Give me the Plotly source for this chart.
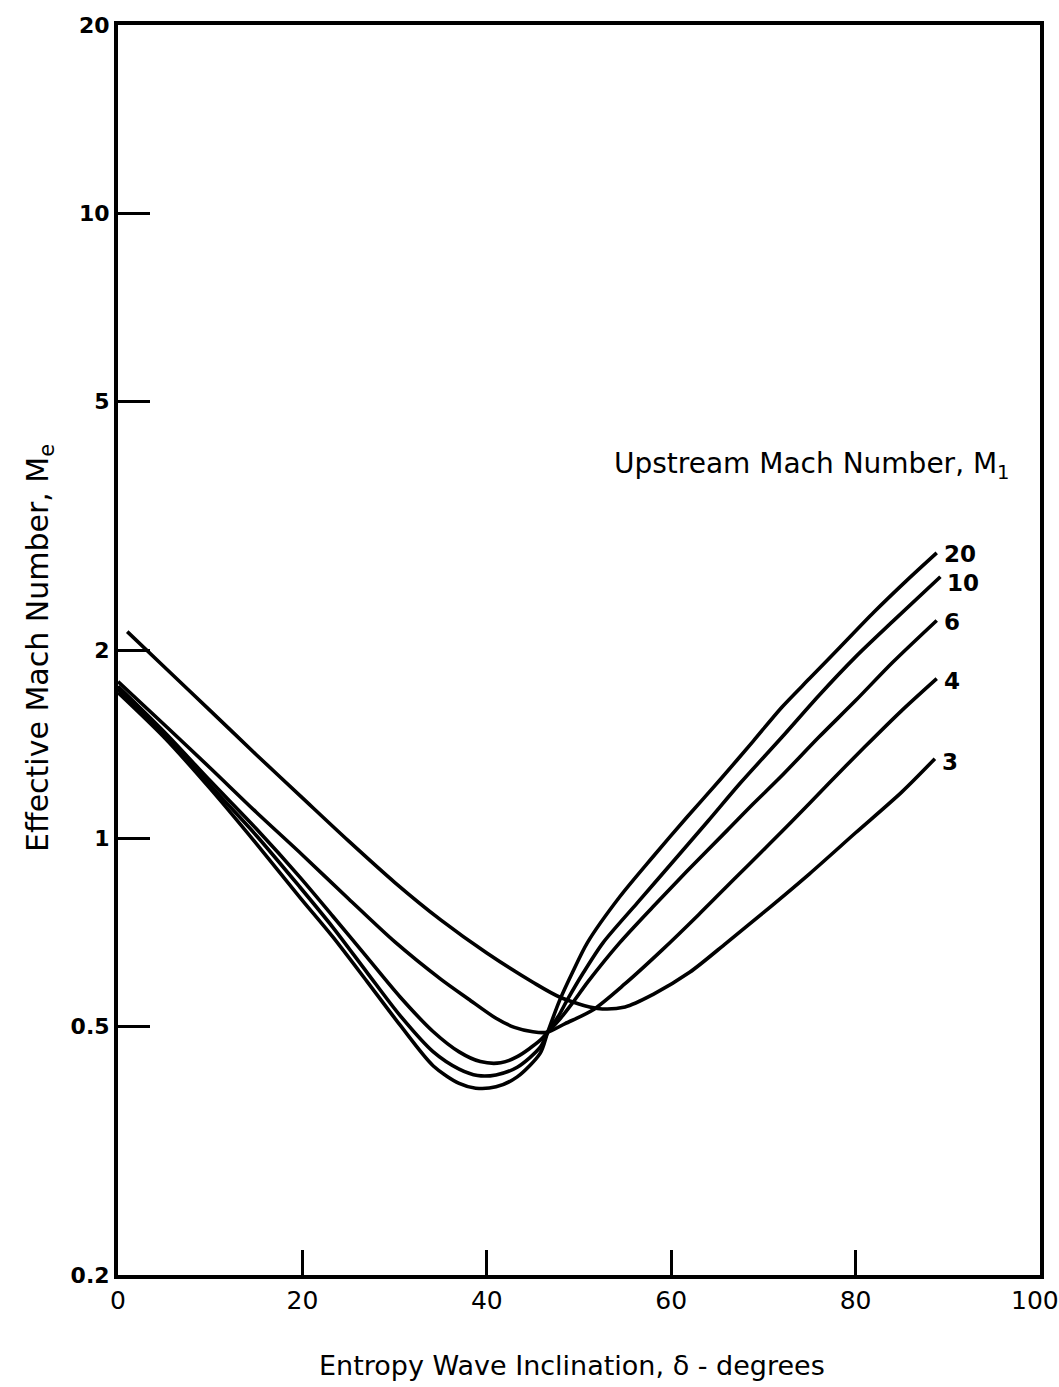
import math
import plotly.graph_objects as go

# ---- data ----
x_m3 = [1, 5, 10, 15, 20, 25, 30, 35, 40, 45, 48, 52, 55, 58, 62, 66, 70, 75, 80, 85, 88.6]
y_m3 = [2.14, 1.88, 1.60, 1.36, 1.16, 0.99, 0.85, 0.74, 0.655, 0.588, 0.556, 0.534, 0.537, 0.562, 0.61, 0.68, 0.76, 0.877, 1.02, 1.185, 1.34]

x_m4 = [0, 5, 10, 15, 20, 25, 30, 35, 38, 41, 43, 45, 46.5, 48.5, 51.5, 55, 59, 63, 67, 70, 73, 77, 81, 85, 88.8]
y_m4 = [1.78, 1.52, 1.295, 1.10, 0.94, 0.80, 0.683, 0.595, 0.553, 0.515, 0.498, 0.490, 0.489, 0.505, 0.531, 0.585, 0.662, 0.755, 0.865, 0.957, 1.06, 1.22, 1.40, 1.60, 1.80]

x_m6 = [0, 5, 10, 15, 19.7, 23.3, 27, 30.6, 34.2, 37, 39.3, 41.5, 43.3, 45.8, 46.6, 48, 49.3, 51, 54.4, 58, 61.7, 66.1, 68.9, 71.8, 76, 80, 84, 88.8]
y_m6 = [1.75, 1.48, 1.235, 1.035, 0.867, 0.75, 0.645, 0.557, 0.49, 0.455, 0.439, 0.437, 0.447, 0.475, 0.489, 0.515, 0.545, 0.59, 0.68, 0.776, 0.885, 1.03, 1.135, 1.25, 1.45, 1.66, 1.91, 2.23]

x_m10 = [0, 5, 10, 15, 19.7, 23.3, 27, 30.6, 34.2, 37, 39, 41, 43.3, 45.8, 46.6, 47.8, 48.7, 50.5, 52.6, 56.3, 60, 64, 67.5, 72, 76, 80, 84, 89.2]
y_m10 = [1.73, 1.47, 1.215, 1.01, 0.836, 0.72, 0.61, 0.52, 0.455, 0.427, 0.417, 0.418, 0.430, 0.463, 0.489, 0.52, 0.55, 0.61, 0.68, 0.787, 0.91, 1.065, 1.225, 1.45, 1.69, 1.95, 2.22, 2.62]

x_m20 = [0, 5, 10, 15, 19.7, 23.3, 27, 30.6, 34.2, 37, 38.8, 41, 43.3, 45.8, 46.6, 47.9, 49.3, 50.9, 54.4, 58, 61.7, 65.3, 68.9, 72, 75, 78.3, 82, 85.5, 88.8]
y_m20 = [1.71, 1.45, 1.20, 0.98, 0.805, 0.695, 0.59, 0.502, 0.432, 0.405, 0.398, 0.400, 0.415, 0.453, 0.489, 0.55, 0.61, 0.68, 0.805, 0.933, 1.08, 1.24, 1.43, 1.62, 1.80, 2.02, 2.30, 2.58, 2.86]

series = [
    ("20", x_m20, y_m20),
    ("10", x_m10, y_m10),
    ("6", x_m6, y_m6),
    ("4", x_m4, y_m4),
    ("3", x_m3, y_m3),
]

x_ticks = [0, 20, 40, 60, 80, 100]
x_tick_labels = ["0", "20", "40", "60", "80", "100"]
y_ticks = [0.2, 0.5, 1, 2, 5, 10, 20]
y_tick_labels = ["0.2", "0.5", "1", "2", "5", "10", "20"]

FONT = "DejaVu Sans"

# vertical nudges (px) of the curve-end labels
label_yshift = {"20": -1, "10": -6, "6": -2, "4": -2, "3": -3}

fig = go.Figure()
for name, xs, ys in series:
    fig.add_trace(go.Scatter(
        x=xs, y=ys, mode="lines", name=name,
        line=dict(color="black", width=3.6, shape="spline", smoothing=0.8),
        showlegend=False, hoverinfo="skip",
    ))
    fig.add_annotation(
        x=xs[-1], y=math.log10(ys[-1]), xref="x", yref="y", text=name,
        showarrow=False, xanchor="left", yanchor="middle",
        xshift=5, yshift=label_yshift[name],
        font=dict(family=FONT, size=23, color="black", weight="bold"),
    )

fig.add_annotation(
    x=0.536, y=0.648, xref="paper", yref="paper",
    text="Upstream Mach Number, M<sub>1</sub>",
    showarrow=False, xanchor="left", yanchor="middle",
    font=dict(family=FONT, size=28, color="black"),
)

fig.add_annotation(
    x=0.4924, y=-0.072, xref="paper", yref="paper",
    text="Entropy Wave Inclination, δ - degrees",
    showarrow=False, xanchor="center", yanchor="middle",
    font=dict(family=FONT, size=27, color="black"),
)
fig.add_annotation(
    x=-0.0846, y=0.5016, xref="paper", yref="paper",
    text="Effective Mach Number, M<sub>e</sub>",
    showarrow=False, xanchor="center", yanchor="middle", textangle=-90,
    font=dict(family=FONT, size=30, color="black"),
)

# last x tick label drawn shifted left so that it stays inside the page
x_tick_text_shown = x_tick_labels[:-1] + [""]
fig.add_annotation(
    x=x_ticks[-1], y=0, xref="x", yref="paper", text=x_tick_labels[-1],
    showarrow=False, xanchor="center", yanchor="top", xshift=-5, yshift=-9,
    font=dict(family=FONT, size=25, color="black"),
)

fig.update_xaxes(
    range=[0, 100], tickvals=x_ticks, ticktext=x_tick_text_shown,
    ticks="inside", ticklen=25, tickwidth=2.5, tickcolor="black",
    showline=True, linecolor="black", linewidth=4, mirror=True,
    showgrid=False, zeroline=False, ticklabeloverflow="allow",
    tickfont=dict(family=FONT, size=25, color="black"),
)
fig.update_yaxes(
    type="log", range=[-0.69897, 1.30103], tickvals=y_ticks, ticktext=y_tick_labels,
    ticks="inside", ticklen=32, tickwidth=2.5, tickcolor="black",
    showline=True, linecolor="black", linewidth=4, mirror=True,
    showgrid=False, zeroline=False, ticklabeloverflow="allow",
    tickfont=dict(family=FONT, size=22, color="black", weight="bold"),
)

fig.update_layout(
    width=1059, height=1387,
    margin=dict(l=118, r=19, t=25, b=112, autoexpand=False),
    paper_bgcolor="white", plot_bgcolor="white",
)

fig.write_html("out.html")
